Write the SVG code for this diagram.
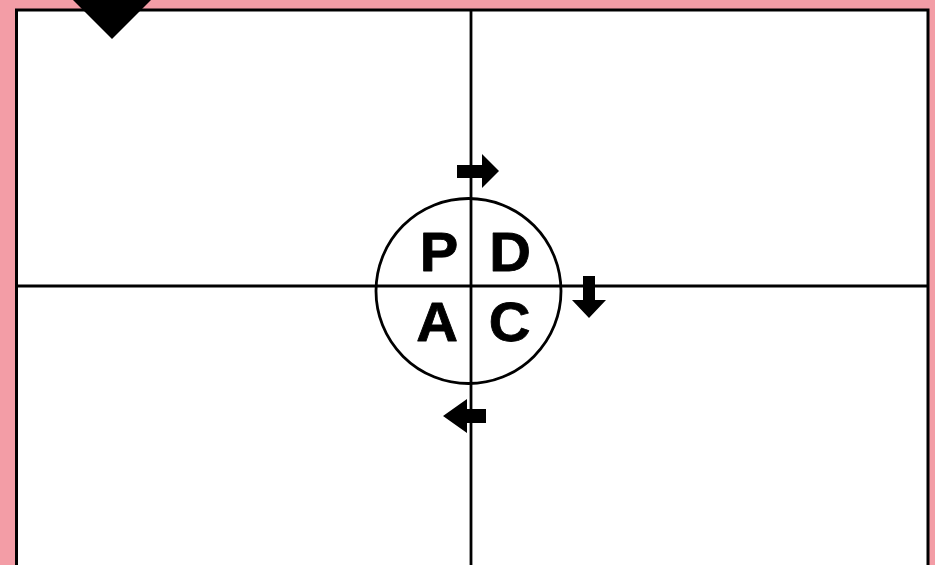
<svg xmlns="http://www.w3.org/2000/svg" width="935" height="565" viewBox="0 0 935 565">
<style>
.ln{stroke:#000;stroke-width:2.8;fill:none}
.lt{font-family:"Liberation Sans",Arial,sans-serif;font-weight:bold;font-size:55px;fill:#000;stroke:#000;stroke-width:0.8;stroke-linejoin:round;text-anchor:middle}
.ar{fill:#000}
</style>
<rect x="0" y="0" width="935" height="565" fill="#F39DA6"/>
<g id="frame">
<rect x="16.5" y="10" width="911.5" height="600" fill="#fff" stroke="#000" stroke-width="3"/>
</g>
<g id="marker-diamond">
<polygon class="ar" points="73,0 112,39 151,0"/>
</g>
<g id="connectors">
<line class="ln" x1="471" y1="10" x2="471" y2="565"/>
<line class="ln" x1="17" y1="286" x2="928" y2="286"/>
<polygon class="ar" points="457,165 482,165 482,154 499,171 482,188 482,178 457,178"/>
<polygon class="ar" points="583,276 595,276 595,300 606,300 589,318 572,300 583,300"/>
<polygon class="ar" points="486,409 467,409 467,399 443,416 467,433 467,423 486,423"/>
</g>
<g id="pdca">
<circle class="ln" cx="468.5" cy="291" r="92.5"/>
<text class="lt" transform="translate(439,270.5) scale(1.05,1)">P</text>
<text class="lt" transform="translate(510,270.5) scale(1.05,1)">D</text>
<text class="lt" transform="translate(437,340.5) scale(1.05,1)">A</text>
<text class="lt" transform="translate(509.5,340.5) scale(1.05,1)">C</text>
</g>
</svg>
